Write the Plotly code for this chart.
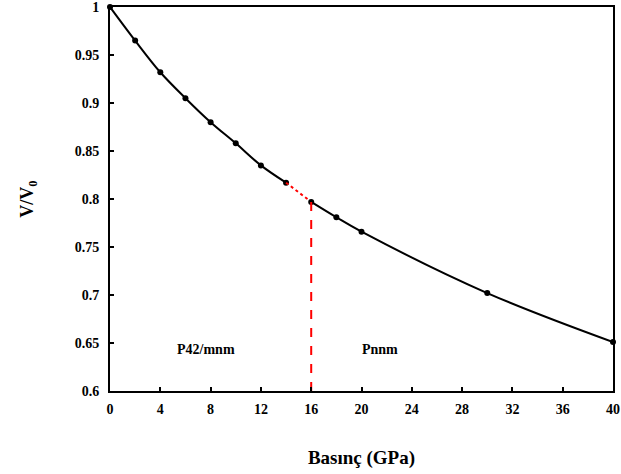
import plotly.graph_objects as go

pressure = [0, 2, 4, 6, 8, 10, 12, 14, 16, 18, 20, 30, 40]
v_ratio = [1.0, 0.965, 0.932, 0.905, 0.880, 0.858, 0.835, 0.817, 0.797, 0.781, 0.766, 0.702, 0.651]
transition_p = 16
phase_labels = ["P42/mnm", "Pnnm"]
phase_label_x = [7.6, 21.5]
phase_label_y = [0.643, 0.643]
x_ticks = list(range(0, 41, 4))
y_ticks = [0.6, 0.65, 0.7, 0.75, 0.8, 0.85, 0.9, 0.95, 1.0]
y_ticklabels = ["0.6", "0.65", "0.7", "0.75", "0.8", "0.85", "0.9", "0.95", "1"]

font = "Liberation Serif"
fig = go.Figure()
# phase 1 (0-14)
fig.add_trace(go.Scatter(x=pressure[:8], y=v_ratio[:8], mode="lines+markers",
                         line=dict(color="black", width=2, shape="spline"),
                         marker=dict(color="black", size=6), cliponaxis=False, showlegend=False))
# transition dotted
fig.add_trace(go.Scatter(x=pressure[7:9], y=v_ratio[7:9], mode="lines",
                         line=dict(color="red", width=2, dash="dot"), showlegend=False))
# phase 2 (16-40)
fig.add_trace(go.Scatter(x=pressure[8:], y=v_ratio[8:], mode="lines+markers",
                         line=dict(color="black", width=2, shape="spline"),
                         marker=dict(color="black", size=6), cliponaxis=False, showlegend=False))
# vertical dashed line
fig.add_trace(go.Scatter(x=[transition_p, transition_p], y=[0.6, v_ratio[8]], mode="lines",
                         line=dict(color="red", width=2, dash="dash"), showlegend=False))

for t, x, y in zip(phase_labels, phase_label_x, phase_label_y):
    fig.add_annotation(x=x, y=y, text="<b>" + t + "</b>", showarrow=False,
                       font=dict(family=font, size=14, color="black"))

fig.update_layout(
    width=621, height=474,
    margin=dict(l=110, r=8, t=7, b=83),
    plot_bgcolor="white", paper_bgcolor="white",
    font=dict(family=font, color="black"),
)
fig.update_xaxes(range=[0, 40], tickvals=x_ticks, ticktext=["<b>%d</b>" % v for v in x_ticks],
                 ticks="inside", ticklen=4, tickwidth=2, tickcolor="black",
                 showline=True, linecolor="black", linewidth=2, mirror=True,
                 showgrid=False, zeroline=False, tickfont=dict(size=14), automargin=False,
                 ticklabeloverflow="allow", ticklabelstandoff=4,
                 title=dict(text="<b>Basınç (GPa)</b>", font=dict(size=19), standoff=35))
fig.update_yaxes(range=[0.6, 1.0], tickvals=y_ticks, ticktext=["<b>%s</b>" % s for s in y_ticklabels],
                 ticks="inside", ticklen=4, tickwidth=2, tickcolor="black",
                 showline=True, linecolor="black", linewidth=2, mirror=True,
                 showgrid=False, zeroline=False, tickfont=dict(size=14), automargin=False,
                 ticklabeloverflow="allow", ticklabelstandoff=6,
                 title=dict(text="<b>V/V<sub>0</sub></b>", font=dict(size=18), standoff=36))

fig.write_html("out.html", config={"displayModeBar": False},
               post_script="document.body.style.margin='0';document.body.style.overflow='hidden';")
